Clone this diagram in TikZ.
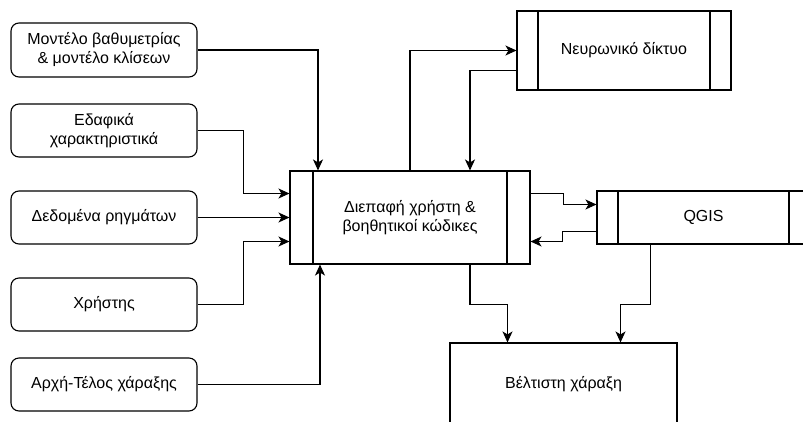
\documentclass[tikz,border=0pt]{standalone}
\usepackage{fontspec}
\setmainfont{Liberation Sans}
\usetikzlibrary{arrows.meta}
\begin{document}
\begin{tikzpicture}[x=1pt,y=-1pt,
    font=\fontsize{16}{19}\selectfont,
    line width=1.1pt,
    inbox/.style={draw,rounded corners=8pt,align=center,inner sep=0pt,
        minimum width=186pt,minimum height=53pt},
    procbox/.style={draw,align=center,inner sep=0pt,
        path picture={
            \draw ([xshift=#1]path picture bounding box.north west) -- ([xshift=#1]path picture bounding box.south west);
            \draw ([xshift=-#1]path picture bounding box.north east) -- ([xshift=-#1]path picture bounding box.south east);}},
    arr/.style={-{Stealth[length=11pt,width=10pt,inset=3pt]}}]
    \clip (0,0) rectangle (803,421);
    % inputs
    \node[inbox,minimum height=54pt] (model) at (104,50) {Μοντέλο βαθυμετρίας\\\& μοντέλο κλίσεων};
    \node[inbox] (terrain) at (104,130.5) {Εδαφικά\\χαρακτηριστικά};
    \node[inbox] (faults) at (104,217.5) {Δεδομένα ρηγμάτων};
    \node[inbox] (user) at (104,304.5) {Χρήστης};
    \node[inbox] (ends) at (104,384.5) {Αρχή-Τέλος χάραξης};
    % main blocks
    \node[procbox=23pt,minimum width=240pt,minimum height=93pt] (gui) at (410,217.5) {Διεπαφή χρήστη \&\\βοηθητικοί κώδικες};
    \node[procbox=21pt,minimum width=214pt,minimum height=79pt] (nn) at (624,50.5) {Νευρωνικό δίκτυο};
    \node[procbox=21pt,minimum width=213pt,minimum height=53pt] (qgis) at (703.5,217.5) {QGIS};
    \node[draw,minimum width=227pt,minimum height=82pt] (best) at (563.5,384) {Βέλτιστη χάραξη};
    % inputs to interface
    \draw[arr] (model.east) -| ([xshift=-92pt]gui.north);
    \draw[arr] (terrain.east) -- ++(46,0) |- ([yshift=24pt]gui.west);
    \draw[arr] (faults.east) -- (gui.west);
    \draw[arr] (user.east) -- ++(46,0) |- ([yshift=-24pt]gui.west);
    \draw[arr] (ends.east) -| ([xshift=-90pt]gui.south);
    % neural network
    \draw[arr] (gui.north) |- (nn.west);
    \draw[arr] ([yshift=-20pt]nn.west) -| ([xshift=60pt]gui.north);
    % QGIS
    \draw[arr] ([yshift=24pt]gui.east) -- ++(33,0) |- ([yshift=13pt]qgis.west);
    \draw[arr] ([yshift=-14pt]qgis.west) -- ++(-34,0) |- ([yshift=-24pt]gui.east);
    % result
    \draw[arr] ([xshift=60pt]gui.south) -- ++(0,40) -| ([xshift=-56pt]best.north);
    \draw[arr] ([xshift=-53pt]qgis.south) -- ++(0,60) -| ([xshift=57pt]best.north);
\end{tikzpicture}
\end{document}
